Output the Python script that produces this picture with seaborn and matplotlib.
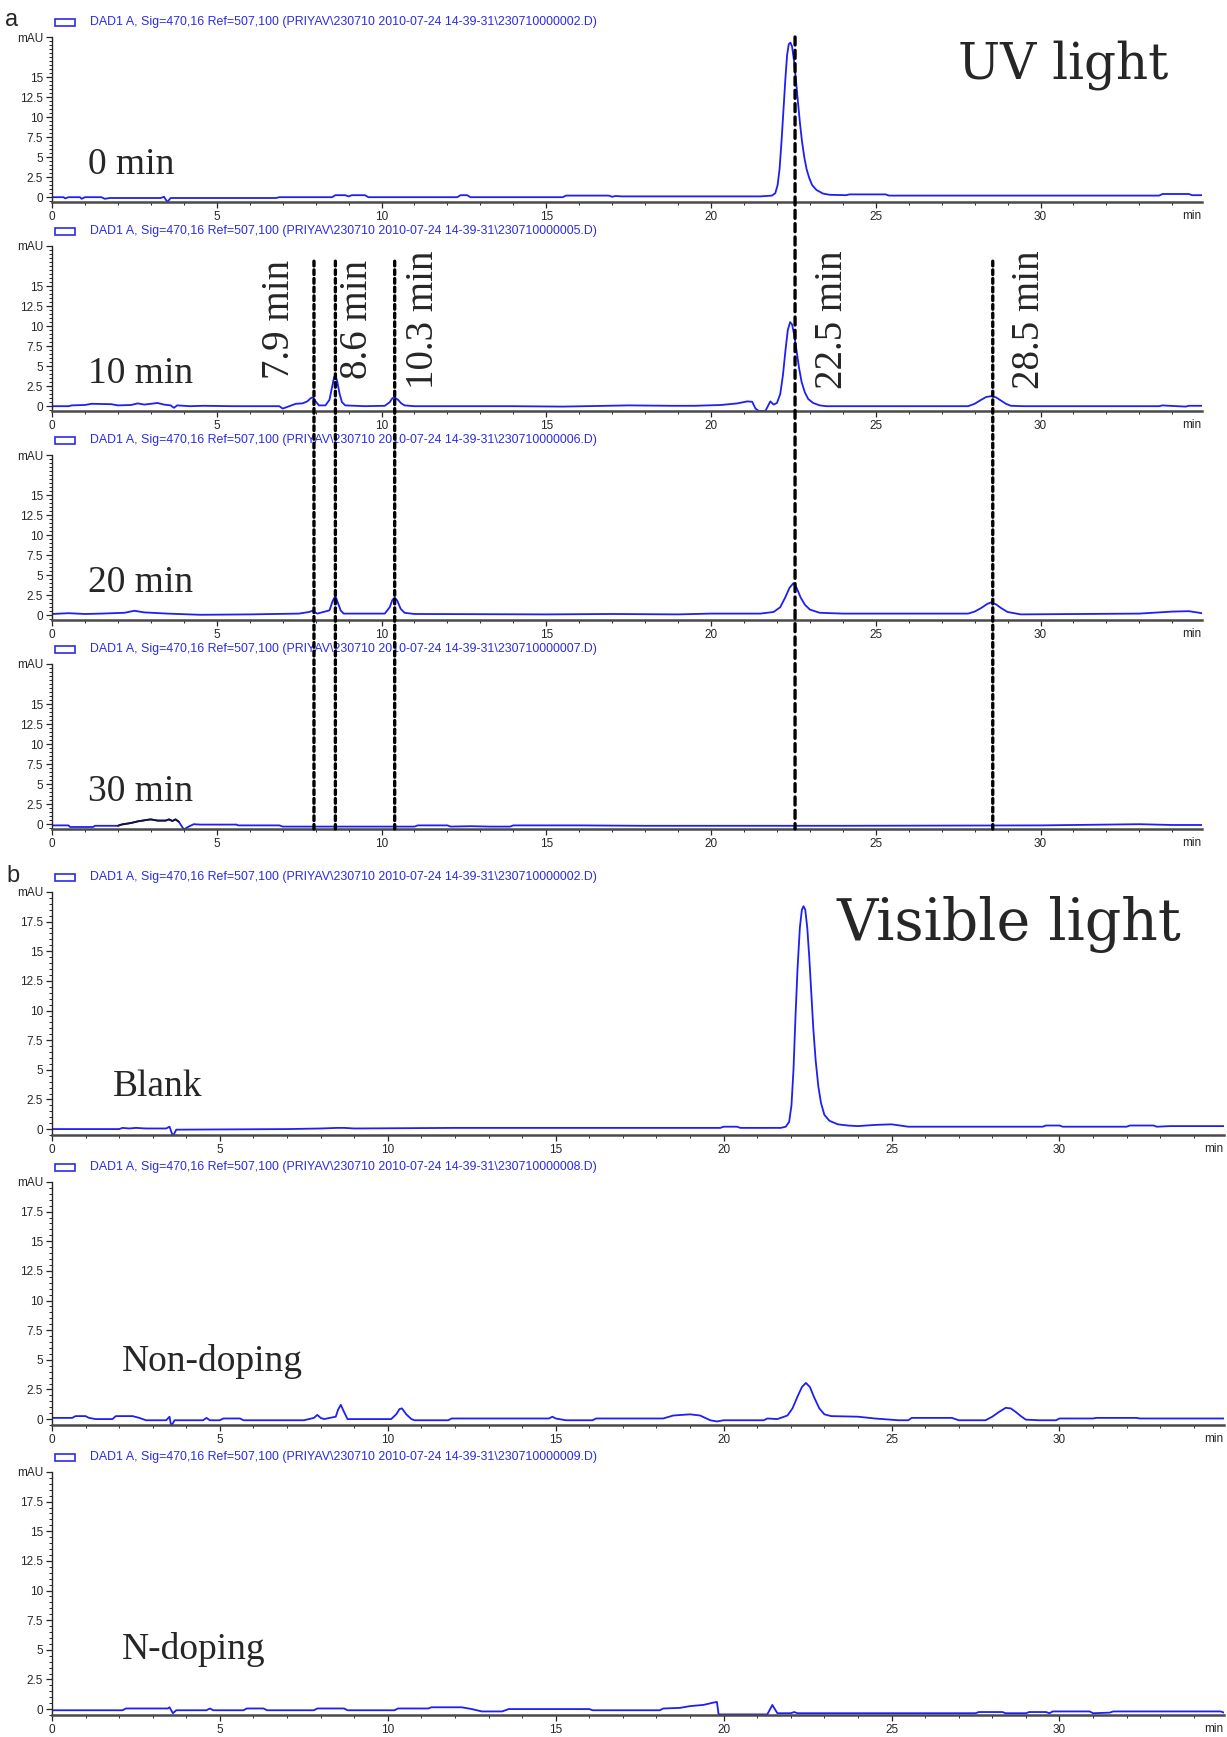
import matplotlib
matplotlib.use("Agg")
import matplotlib.pyplot as plt
import pandas as pd
import seaborn as sns
from matplotlib.patches import ConnectionPatch, Rectangle
from matplotlib.ticker import MultipleLocator

W, H = 1227, 1737
TRACE_BLUE = "#1e1ef5"
HEADER_BLUE = "#2b2bea"

HEADER = "DAD1 A, Sig=470,16 Ref=507,100 (PRIYAV\\230710 2010-07-24 14-39-31\\{})"
header_files = ["230710000002.D", "230710000005.D", "230710000006.D", "230710000007.D",
                "230710000002.D", "230710000008.D", "230710000009.D"]

uv_labels = ["0 min", "10 min", "20 min", "30 min"]
vis_labels = ["Blank", "Non-doping", "N-doping"]

peak_labels = ["7.9 min", "8.6 min", "10.3 min", "22.5 min", "28.5 min"]
peak_marker_times = [7.95, 8.6, 10.4, 22.55, 28.55]

x_ticks = [0, 5, 10, 15, 20, 25, 30]
uv_y_ticks = [0, 2.5, 5, 7.5, 10, 12.5, 15]
vis_y_ticks = [0, 2.5, 5, 7.5, 10, 12.5, 15, 17.5]

# (time [min], absorbance [mAU])
trace_0min = [(0, 0), (0.35, 0), (0.4, -0.15), (0.5, 0), (0.85, 0), (0.9, -0.2), (1.0, 0), (1.5, 0),
              (1.6, -0.2), (1.75, -0.1), (3.3, -0.1), (3.4, 0.05), (3.5, -0.6), (3.6, -0.1), (6.8, -0.1),
              (6.9, 0), (8.5, 0), (8.6, 0.25), (8.9, 0.25), (9.0, 0.1), (9.1, 0.25), (9.5, 0.25), (9.6, 0),
              (12.3, 0), (12.4, 0.25), (12.6, 0.25), (12.7, 0), (15.5, 0), (15.6, 0.2), (16.9, 0.2),
              (17.0, 0.05), (17.1, 0.15), (17.3, 0.1), (21.5, 0.1), (21.85, 0.2), (21.95, 0.5),
              (22.02, 1.5), (22.08, 3.5), (22.14, 7.0), (22.2, 11.0), (22.26, 15.0), (22.31, 17.8),
              (22.36, 19.1), (22.41, 19.3), (22.46, 18.8), (22.52, 17.0), (22.58, 14.5), (22.64, 11.8),
              (22.7, 9.2), (22.76, 7.0), (22.83, 5.0), (22.9, 3.5), (22.98, 2.4), (23.07, 1.5),
              (23.2, 0.9), (23.4, 0.45), (23.6, 0.3), (24.1, 0.25), (24.2, 0.35), (25.3, 0.35),
              (25.4, 0.2), (33.6, 0.2), (33.7, 0.4), (34.5, 0.4), (34.6, 0.25), (34.9, 0.25)]

trace_10min = [(0, 0), (0.5, 0), (0.6, 0.1), (1.0, 0.15), (1.2, 0.3), (1.8, 0.25), (2.0, 0.1), (2.4, 0.15),
               (2.6, 0.35), (2.8, 0.2), (3.0, 0.3), (3.2, 0.4), (3.4, 0.2), (3.6, 0.1), (3.7, -0.2), (3.8, 0.1),
               (4.2, 0), (4.6, 0.05), (5.5, 0), (6.9, 0), (7.0, -0.3), (7.2, 0), (7.4, 0.3), (7.6, 0.35),
               (7.75, 0.6), (7.85, 1.0), (7.92, 1.1), (8.0, 0.6), (8.1, 0.1), (8.3, 0.1), (8.42, 0.8),
               (8.5, 2.4), (8.56, 3.6), (8.6, 3.9), (8.66, 3.0), (8.73, 1.5), (8.8, 0.5), (8.9, 0.1),
               (9.5, 0), (10.1, 0.05), (10.25, 0.5), (10.33, 1.0), (10.4, 1.1), (10.5, 0.8), (10.6, 0.35),
               (10.7, 0.1), (11.0, 0), (14.0, 0), (15.5, -0.05), (17.5, 0.1), (18.8, 0.05),
               (19.5, 0.05), (20.3, 0.15), (20.8, 0.35), (21.1, 0.6), (21.25, 0.55), (21.35, -0.3),
               (21.45, -0.6), (21.65, -0.6), (21.8, 0.6), (21.9, 0.2), (22.0, 0.4), (22.1, 1.5),
               (22.18, 3.8), (22.26, 7.0), (22.33, 9.5), (22.4, 10.5), (22.46, 10.2), (22.53, 8.8),
               (22.6, 6.8), (22.67, 4.8), (22.75, 3.0), (22.85, 1.7), (22.95, 0.9), (23.1, 0.4),
               (23.3, 0.1), (23.5, 0), (27.8, 0), (28.0, 0.3), (28.2, 0.8), (28.35, 1.15), (28.5, 1.25),
               (28.65, 1.1), (28.8, 0.7), (28.95, 0.3), (29.1, 0.05), (29.5, 0), (33.6, 0), (33.7, 0.1),
               (33.9, 0.05), (34.4, -0.05), (34.5, 0.05), (34.9, 0.05)]

trace_20min = [(0, 0.15), (0.5, 0.25), (1.0, 0.15), (1.5, 0.2), (2.2, 0.3), (2.5, 0.55), (2.8, 0.35),
               (3.5, 0.2), (4.5, 0.05), (6.0, 0.1), (7.5, 0.2), (7.8, 0.4), (7.9, 0.55), (8.05, 0.2),
               (8.42, 0.6), (8.52, 1.8), (8.6, 2.4), (8.68, 1.5), (8.76, 0.6), (8.85, 0.2), (10.1, 0.2),
               (10.25, 1.0), (10.33, 1.9), (10.4, 2.2), (10.48, 1.8), (10.58, 0.8), (10.7, 0.3),
               (11.0, 0.15), (15.0, 0.1), (17.0, 0.15), (19.0, 0.1), (20.0, 0.2), (21.5, 0.2), (21.9, 0.4),
               (22.1, 1.0), (22.25, 2.2), (22.38, 3.4), (22.5, 4.0), (22.6, 3.4), (22.72, 2.2),
               (22.85, 1.3), (23.0, 0.7), (23.3, 0.3), (24.0, 0.2), (27.8, 0.2), (28.0, 0.45),
               (28.2, 0.9), (28.38, 1.4), (28.5, 1.6), (28.65, 1.35), (28.8, 0.9), (29.0, 0.4),
               (29.4, 0.1), (33.0, 0.2), (34.0, 0.45), (34.5, 0.5), (34.9, 0.25)]

trace_30min = [(0, -0.15), (0.5, -0.15), (0.55, -0.35), (1.25, -0.35), (1.3, -0.2), (2.0, -0.2),
               (2.1, -0.05), (2.4, 0.15), (2.6, 0.35), (2.9, 0.55), (3.0, 0.6), (3.2, 0.45), (3.45, 0.45),
               (3.55, 0.6), (3.65, 0.4), (3.75, 0.6), (3.85, 0.3), (4.0, -0.65), (4.15, -0.3), (4.3, 0),
               (4.5, -0.05), (5.6, -0.05), (5.65, -0.15), (6.9, -0.15), (7.0, -0.3), (11.0, -0.3),
               (11.1, -0.15), (12.0, -0.15), (12.1, -0.3), (12.7, -0.25), (13.3, -0.3), (13.9, -0.3),
               (14.0, -0.15), (16.0, -0.15), (18.0, -0.2), (24.0, -0.2), (30.0, -0.15), (33.0, 0),
               (34.0, -0.1), (34.9, -0.1)]
dark_segment_30min = (2.0, 3.85)

trace_blank = [(0, 0), (2.0, 0), (2.1, 0.1), (2.3, 0.05), (2.5, 0.1), (2.8, 0.05), (3.4, 0.05), (3.5, 0.2),
               (3.6, -0.6), (3.7, -0.05), (7.0, 0), (8.0, 0.05), (8.5, 0.1), (8.7, 0.1), (9.0, 0.05),
               (12.0, 0.1), (16.0, 0.1), (19.9, 0.1), (20.0, 0.2), (20.4, 0.2), (20.5, 0.1), (21.7, 0.1),
               (21.85, 0.2), (21.95, 0.6), (22.02, 2.0), (22.08, 5.0), (22.14, 9.5), (22.2, 13.5),
               (22.27, 17.0), (22.33, 18.5), (22.38, 18.8), (22.43, 18.5), (22.49, 17.0), (22.55, 14.5),
               (22.61, 11.5), (22.67, 8.5), (22.74, 5.8), (22.82, 3.6), (22.9, 2.2), (23.0, 1.2),
               (23.15, 0.7), (23.4, 0.4), (23.7, 0.3), (24.0, 0.25), (24.5, 0.35), (25.0, 0.4),
               (25.5, 0.2), (29.5, 0.2), (29.6, 0.3), (30.0, 0.3), (30.1, 0.2), (32.0, 0.2), (32.1, 0.3),
               (32.8, 0.3), (32.9, 0.2), (33.3, 0.25), (34.9, 0.25)]

trace_nondoping = [(0, 0.1), (0.6, 0.1), (0.7, 0.25), (1.0, 0.25), (1.1, 0.1), (1.3, 0), (1.8, 0),
                   (1.9, 0.25), (2.4, 0.25), (2.6, 0.1), (2.8, -0.1), (3.4, -0.1), (3.5, 0.2), (3.55, -0.6),
                   (3.65, -0.1), (4.5, -0.1), (4.6, 0.1), (4.7, -0.1), (5.0, -0.1), (5.1, 0.05), (5.6, 0.05),
                   (5.7, -0.1), (7.5, -0.1), (7.8, 0.1), (7.9, 0.35), (8.0, 0.1), (8.1, 0), (8.45, 0.2),
                   (8.52, 0.8), (8.6, 1.2), (8.68, 0.7), (8.8, 0), (10.1, 0), (10.25, 0.4), (10.35, 0.85),
                   (10.42, 0.9), (10.55, 0.4), (10.7, 0), (10.8, -0.1), (11.8, -0.1), (11.9, 0.05),
                   (14.8, 0.05), (14.9, 0.2), (15.0, 0.05), (15.3, -0.1), (16.1, -0.1), (16.2, 0.05),
                   (18.2, 0.05), (18.5, 0.3), (19.0, 0.4), (19.3, 0.3), (19.6, -0.1), (19.8, -0.2),
                   (20.0, -0.1), (21.2, -0.1), (21.3, 0.05), (21.6, 0), (21.9, 0.3), (22.05, 0.9),
                   (22.2, 1.9), (22.33, 2.7), (22.45, 3.05), (22.57, 2.7), (22.7, 1.8), (22.85, 0.9),
                   (23.0, 0.4), (23.2, 0.25), (24.0, 0.2), (24.5, 0.05), (25.2, -0.1), (25.5, -0.1),
                   (25.6, 0.1), (26.8, 0.1), (27.0, -0.1), (27.8, -0.1), (28.0, 0.2), (28.2, 0.6),
                   (28.4, 0.95), (28.55, 0.9), (28.7, 0.6), (28.85, 0.25), (29.0, -0.05), (29.4, -0.1),
                   (29.9, -0.1), (30.0, 0.05), (31.0, 0.05), (31.1, 0.1), (32.3, 0.1), (32.4, 0.05),
                   (34.9, 0.05)]

trace_ndoping = [(0, -0.1), (2.1, -0.1), (2.2, 0.05), (3.45, 0.05), (3.5, 0.15), (3.6, -0.35), (3.7, -0.1),
                 (4.6, -0.1), (4.7, 0.05), (4.8, -0.1), (5.7, -0.1), (5.8, 0.05), (6.3, 0.05), (6.4, -0.1),
                 (7.8, -0.1), (7.9, 0.05), (8.7, 0.05), (8.8, -0.1), (10.2, -0.1), (10.3, 0.05), (11.2, 0.05),
                 (11.3, 0.15), (12.2, 0.15), (12.5, 0), (12.8, -0.2), (13.4, -0.2), (13.6, 0), (16.0, 0),
                 (16.1, -0.1), (18.1, -0.1), (18.2, 0.05), (18.7, 0.1), (19.0, 0.25), (19.4, 0.35),
                 (19.7, 0.55), (19.8, 0.6), (19.85, -0.45), (21.3, -0.45), (21.45, 0.35), (21.6, -0.35),
                 (22.0, -0.35), (22.1, -0.25), (22.2, -0.35), (27.5, -0.35), (27.6, -0.25), (28.3, -0.25),
                 (28.4, -0.35), (29.0, -0.35), (29.1, -0.25), (29.6, -0.25), (29.7, -0.35), (29.8, -0.2),
                 (30.9, -0.2), (31.0, -0.35), (31.5, -0.3), (31.6, -0.2), (34.8, -0.2), (34.9, -0.3)]

uv_traces = [trace_0min, trace_10min, trace_20min, trace_30min]
vis_traces = [trace_blank, trace_nondoping, trace_ndoping]


def to_frame(points):
    return pd.DataFrame(points, columns=["time", "mAU"])


def px_rect(left, top, right, height):
    return [left / W, 1 - (top + height) / H, (right - left) / W, height / H]


def style_axis(ax, y_ticks, y_bottom):
    ax.set_xlim(0, 34.9)
    ax.set_ylim(y_bottom, 20)
    sns.despine(ax=ax)
    ax.spines["bottom"].set_color("#4a4a4a")
    ax.spines["bottom"].set_linewidth(1.8)
    ax.spines["left"].set_linewidth(1.0)
    ax.set_xticks(x_ticks)
    ax.set_xticklabels([str(t) for t in x_ticks])
    ax.xaxis.set_minor_locator(MultipleLocator(1))
    ax.set_yticks(list(y_ticks) + [20])
    ax.set_yticklabels([f"{v:g}" for v in y_ticks] + ["mAU"])
    ax.yaxis.set_minor_locator(MultipleLocator(0.5))
    ax.tick_params(which="major", direction="out", length=4, width=0.9, labelsize=8.5, pad=2.5)
    ax.tick_params(which="minor", direction="out", length=2.2, width=0.7)
    ax.set_xlabel("")
    ax.set_ylabel("")
    ax.annotate("min", xy=(34.6, 0), xycoords=ax.get_xaxis_transform(),
                xytext=(0, -5.5), textcoords="offset points", ha="center", va="top", fontsize=8.5)


def add_header(fig, top_px, fname):
    yc = top_px - 15
    fig.add_artist(Rectangle((55 / W, 1 - (yc + 3.5) / H), 20 / W, 7 / H, transform=fig.transFigure,
                             fill=False, edgecolor=HEADER_BLUE, linewidth=1.2))
    fig.text(90 / W, 1 - yc / H, HEADER.format(fname), color=HEADER_BLUE, fontsize=8.9,
             va="center", ha="left")


sns.set_style("ticks")
plt.rcParams["font.family"] = ["Liberation Sans", "DejaVu Sans"]

fig = plt.figure(figsize=(W / 100, H / 100), dpi=100)

uv_axes = []
for i, (points, label) in enumerate(zip(uv_traces, uv_labels)):
    top = 37 + 209 * i
    ax = fig.add_axes(px_rect(52, top, 1202, 165))
    df = to_frame(points)
    sns.lineplot(data=df, x="time", y="mAU", ax=ax, color=TRACE_BLUE, linewidth=1.3,
                 estimator=None, sort=False)
    if i == 3:
        lo, hi = dark_segment_30min
        seg = df[(df["time"] >= lo) & (df["time"] <= hi)]
        sns.lineplot(data=seg, x="time", y="mAU", ax=ax, color="#15152a", linewidth=1.3,
                     estimator=None, sort=False)
    style_axis(ax, uv_y_ticks, -0.6)
    add_header(fig, top, header_files[i])
    fig.text(88 / W, 1 - (174 + 209 * i) / H, label, family="Liberation Serif", fontsize=27,
             va="baseline", ha="left")
    uv_axes.append(ax)

vis_axes = []
for i, (points, label) in enumerate(zip(vis_traces, vis_labels)):
    top = 892 + 290 * i
    ax = fig.add_axes(px_rect(52, top, 1224, 243))
    sns.lineplot(data=to_frame(points), x="time", y="mAU", ax=ax, color=TRACE_BLUE, linewidth=1.3,
                 estimator=None, sort=False)
    style_axis(ax, vis_y_ticks, -0.5)
    add_header(fig, top, header_files[4 + i])
    vis_axes.append(ax)

fig.text(113 / W, 1 - 1096 / H, vis_labels[0], family="Liberation Serif", fontsize=27, va="baseline")
fig.text(122 / W, 1 - 1371 / H, vis_labels[1], family="Liberation Serif", fontsize=27, va="baseline")
fig.text(122 / W, 1 - 1659 / H, vis_labels[2], family="Liberation Serif", fontsize=27, va="baseline")

fig.text(958 / W, 1 - 78 / H, "UV light", family="DejaVu Serif", fontsize=36, va="baseline")
fig.text(836 / W, 1 - 940 / H, "Visible light", family="DejaVu Serif", fontsize=41, va="baseline")

fig.text(5 / W, 1 - 20 / H, "a", fontsize=17, va="center", ha="left")
fig.text(6 / W, 1 - 876 / H, "b", fontsize=17, va="center", ha="left")

# retention-time markers running through panel a
start_panel = [1, 1, 1, 0, 1]
start_value = [18.1, 18.1, 18.1, 20, 18.1]
label_shift_px = [-34, 22, 29, 37, 37]
ax10 = uv_axes[1]
px_per_min = 1150 / 34.9
for t, lab, sp, sv, dx in zip(peak_marker_times, peak_labels, start_panel, start_value, label_shift_px):
    style = (0, (2.4, 1.6)) if sp == 0 else (0, (1.4, 1.2))
    line = ConnectionPatch(xyA=(t, sv), coordsA=uv_axes[sp].transData,
                           xyB=(t, -0.6), coordsB=uv_axes[3].transData,
                           color="black", linewidth=2.4, linestyle=style, zorder=5)
    fig.add_artist(line)
    ax10.text(t + dx / px_per_min, 10.8, lab, family="Liberation Serif", fontsize=28,
              rotation=90, ha="center", va="center")

fig.savefig("out.png", dpi=100)
